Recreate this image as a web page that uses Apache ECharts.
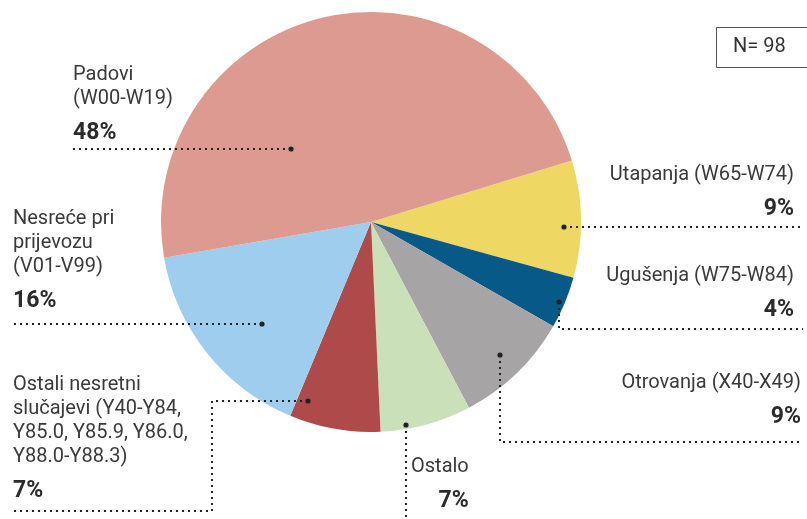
<!DOCTYPE html>
<html>
<head>
    <meta charset="utf-8">
    <script src="https://cdn.jsdelivr.net/npm/echarts@6/dist/echarts.min.js"></script>
</head>
<body style="margin:0">
    <div id="main" style="width:807px;height:519px"></div>
    <script type="text/javascript">
        // data, clockwise from the yellow slice
        var categories = ['Utapanja (W65-W74)', 'Ugušenja (W75-W84)', 'Otrovanja (X40-X49)', 'Ostalo',
            'Ostali nesretni\nslučajevi (Y40-Y84,\nY85.0, Y85.9, Y86.0,\nY88.0-Y88.3)',
            'Nesreće pri\nprijevozu\n(V01-V99)', 'Padovi\n(W00-W19)'];
        var percents = [9, 4, 9, 7, 7, 16, 48];
        var colors = ['#eed762', '#075a88', '#a6a4a5', '#c9e0b8', '#af4a4a', '#9fcdee', '#dd9a90'];
        var sampleSize = 98;

        // where each label and its dotted leader go
        var layout = [
            {x: 794, y: 163, align: 'right', line: [[564, 227], [803, 227]]},
            {x: 794, y: 264, align: 'right', line: [[559, 302], [559, 329], [803, 329]]},
            {x: 801, y: 371, align: 'right', line: [[500, 355], [500, 442], [803, 442]]},
            {x: 411, y: 455, align: 'left', pctAlign: 'right', line: [[406, 425], [406, 522]]},
            {x: 13, y: 373, align: 'left', line: [[308, 401], [212, 401], [212, 511], [13, 511]]},
            {x: 13, y: 207, align: 'left', line: [[262, 324], [13, 324]]},
            {x: 73, y: 63, align: 'left', line: [[291, 149], [72, 149]]}
        ];

        var data = categories.map(function (name, i) {
            return {
                name: name,
                value: percents[i],
                itemStyle: {color: colors[i]}
            };
        });

        // dotted leaders on top of the slices
        var leaders = [];
        layout.forEach(function (l) {
            leaders.push({
                type: 'polyline',
                shape: {points: l.line},
                style: {stroke: '#222', lineWidth: 2, lineDash: [2, 4], fill: null},
                z: 100
            });
            leaders.push({
                type: 'circle',
                shape: {cx: l.line[0][0], cy: l.line[0][1], r: 2.6},
                style: {fill: '#222'},
                z: 101
            });
        });

        var myChart = echarts.init(document.getElementById('main'));
        var option = {
            animation: false,
            series: [{
                type: 'pie',
                center: [371, 222],
                radius: 210,
                startAngle: 17,
                clockwise: true,
                avoidLabelOverlap: false,
                silent: true,
                data: data,
                label: {
                    show: true,
                    position: 'outside',
                    formatter: function (p) {
                        var lines = p.name.split('\n').map(function (s) { return '{n|' + s + '}'; });
                        var pa = layout[p.dataIndex].pctAlign ? 'q' : 'p';
                        return lines.join('\n') + '\n{' + pa + '|' + p.value + '%}';
                    },
                    rich: {
                        n: {fontFamily: 'Roboto', fontSize: 20, lineHeight: 24, color: '#3a3a3a'},
                        p: {fontFamily: 'Roboto', fontSize: 23, fontWeight: 'bold', lineHeight: 44, color: '#2b2b2b'},
                        q: {fontFamily: 'Roboto', fontSize: 23, fontWeight: 'bold', lineHeight: 44, color: '#2b2b2b', align: 'right'}
                    }
                },
                labelLine: {show: false},
                labelLayout: function (params) {
                    var l = layout[params.dataIndex];
                    return {
                        x: l.x,
                        y: l.y,
                        align: l.align,
                        verticalAlign: 'top'
                    };
                }
            }],
            graphic: leaders.concat([
                {
                    type: 'rect',
                    shape: {x: 716.5, y: 27.5, width: 100, height: 40},
                    style: {fill: '#fff', stroke: '#555', lineWidth: 1}
                },
                {
                    type: 'text',
                    x: 733, y: 47,
                    style: {text: 'N= ' + sampleSize, fontFamily: 'Roboto', fontSize: 20,
                        fill: '#333', verticalAlign: 'middle'}
                }
            ])
        };
        myChart.setOption(option);
    </script>
</body>
</html>
